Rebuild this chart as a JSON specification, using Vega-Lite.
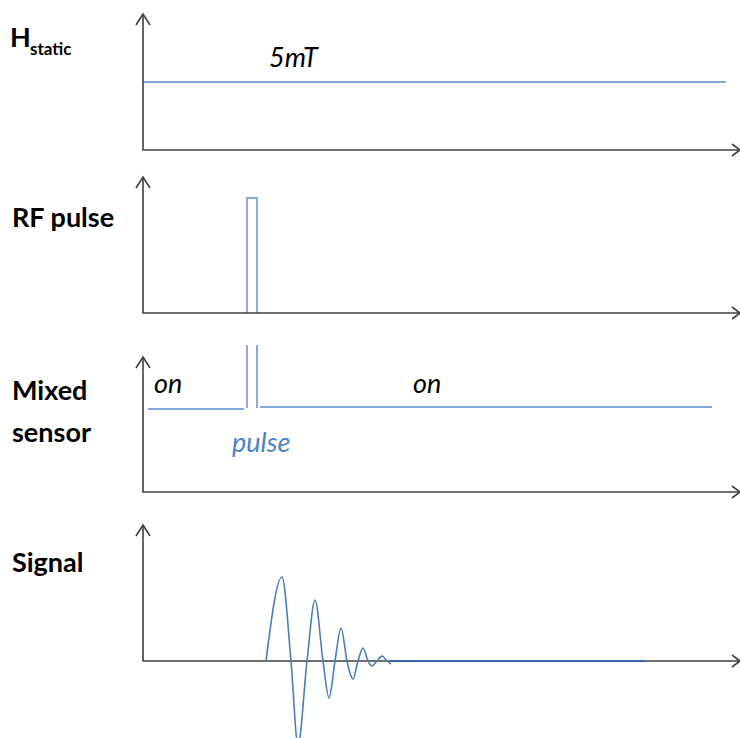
{
  "$schema": "https://vega.github.io/schema/vega-lite/v6.json",
  "width": 740,
  "height": 738,
  "padding": 0,
  "autosize": {"type": "fit", "contains": "padding"},
  "background": "white",
  "config": {"view": {"stroke": null}},
  "datasets": {
    "axes": [
      {"seg": "a1", "o": 1, "t": 143, "v": 14}, {"seg": "a1", "o": 2, "t": 143, "v": 150}, {"seg": "a1", "o": 3, "t": 740, "v": 150},
      {"seg": "a1y", "o": 1, "t": 136, "v": 25}, {"seg": "a1y", "o": 2, "t": 143, "v": 14}, {"seg": "a1y", "o": 3, "t": 150, "v": 25},
      {"seg": "a1x", "o": 1, "t": 732, "v": 144}, {"seg": "a1x", "o": 2, "t": 740, "v": 150}, {"seg": "a1x", "o": 3, "t": 732, "v": 156},
      {"seg": "a2", "o": 1, "t": 143, "v": 177}, {"seg": "a2", "o": 2, "t": 143, "v": 313}, {"seg": "a2", "o": 3, "t": 740, "v": 313},
      {"seg": "a2y", "o": 1, "t": 136, "v": 188}, {"seg": "a2y", "o": 2, "t": 143, "v": 177}, {"seg": "a2y", "o": 3, "t": 150, "v": 188},
      {"seg": "a2x", "o": 1, "t": 732, "v": 307}, {"seg": "a2x", "o": 2, "t": 740, "v": 313}, {"seg": "a2x", "o": 3, "t": 732, "v": 319},
      {"seg": "a3", "o": 1, "t": 143, "v": 357}, {"seg": "a3", "o": 2, "t": 143, "v": 492}, {"seg": "a3", "o": 3, "t": 740, "v": 492},
      {"seg": "a3y", "o": 1, "t": 136, "v": 368}, {"seg": "a3y", "o": 2, "t": 143, "v": 357}, {"seg": "a3y", "o": 3, "t": 150, "v": 368},
      {"seg": "a3x", "o": 1, "t": 732, "v": 486}, {"seg": "a3x", "o": 2, "t": 740, "v": 492}, {"seg": "a3x", "o": 3, "t": 732, "v": 498},
      {"seg": "a4", "o": 1, "t": 143, "v": 525}, {"seg": "a4", "o": 2, "t": 143, "v": 661}, {"seg": "a4", "o": 3, "t": 740, "v": 661},
      {"seg": "a4y", "o": 1, "t": 136, "v": 536}, {"seg": "a4y", "o": 2, "t": 143, "v": 525}, {"seg": "a4y", "o": 3, "t": 150, "v": 536},
      {"seg": "a4x", "o": 1, "t": 732, "v": 655}, {"seg": "a4x", "o": 2, "t": 740, "v": 661}, {"seg": "a4x", "o": 3, "t": 732, "v": 667}
    ],
    "traces": [
      {"seg": "h", "o": 1, "t": 143, "v": 82}, {"seg": "h", "o": 2, "t": 726, "v": 82},
      {"seg": "rf", "o": 1, "t": 247, "v": 313}, {"seg": "rf", "o": 2, "t": 247, "v": 198}, {"seg": "rf", "o": 3, "t": 257, "v": 198}, {"seg": "rf", "o": 4, "t": 257, "v": 313},
      {"seg": "m1", "o": 1, "t": 148, "v": 409}, {"seg": "m1", "o": 2, "t": 244, "v": 409},
      {"seg": "m2", "o": 1, "t": 247, "v": 345}, {"seg": "m2", "o": 2, "t": 247, "v": 408},
      {"seg": "m3", "o": 1, "t": 257, "v": 345}, {"seg": "m3", "o": 2, "t": 257, "v": 408},
      {"seg": "m4", "o": 1, "t": 260, "v": 407}, {"seg": "m4", "o": 2, "t": 712, "v": 407}
    ],
    "signal": [
      {"t": 266, "v": 661}, {"t": 282, "v": 577}, {"t": 291, "v": 661}, {"t": 298, "v": 745},
      {"t": 307, "v": 661}, {"t": 315, "v": 600}, {"t": 323, "v": 661}, {"t": 329, "v": 698},
      {"t": 335, "v": 661}, {"t": 341, "v": 628}, {"t": 347, "v": 661}, {"t": 353, "v": 679},
      {"t": 358, "v": 661}, {"t": 363, "v": 648}, {"t": 368, "v": 661}, {"t": 372, "v": 666},
      {"t": 377, "v": 661}, {"t": 382, "v": 656}, {"t": 387, "v": 661}, {"t": 391, "v": 664}
    ],
    "flat": [
      {"t": 390, "v": 661}, {"t": 645, "v": 661}
    ],
    "labels": [
      {"role": "title", "text": "H", "t": 10, "v": 47},
      {"role": "sub", "text": "static", "t": 30, "v": 55},
      {"role": "title", "text": "RF pulse", "t": 12, "v": 227},
      {"role": "title", "text": "Mixed", "t": 12, "v": 400},
      {"role": "title", "text": "sensor", "t": 12, "v": 442},
      {"role": "title", "text": "Signal", "t": 12, "v": 572},
      {"role": "note", "text": "5mT", "t": 269, "v": 67},
      {"role": "note", "text": "on", "t": 154, "v": 393},
      {"role": "note", "text": "on", "t": 413, "v": 393},
      {"role": "blue", "text": "pulse", "t": 232, "v": 452}
    ]
  },
  "encoding": {
    "x": {"field": "t", "type": "quantitative", "scale": {"domain": [0, 740], "nice": false, "zero": false}, "axis": null},
    "y": {"field": "v", "type": "quantitative", "scale": {"domain": [0, 738], "nice": false, "zero": false, "reverse": true}, "axis": null}
  },
  "layer": [
    {
      "data": {"name": "traces"},
      "mark": {"type": "line", "color": "#5b8ad0", "strokeWidth": 1.4, "clip": true},
      "encoding": {"detail": {"field": "seg"}, "order": {"field": "o", "type": "quantitative"}}
    },
    {
      "data": {"name": "axes"},
      "mark": {"type": "line", "color": "#404040", "strokeWidth": 1.6, "clip": true},
      "encoding": {"detail": {"field": "seg"}, "order": {"field": "o", "type": "quantitative"}}
    },
    {
      "data": {"name": "signal"},
      "mark": {"type": "line", "color": "#4a7ebb", "strokeWidth": 1.6, "interpolate": "monotone", "clip": true},
      "encoding": {"order": {"field": "t", "type": "quantitative"}}
    },
    {
      "data": {"name": "flat"},
      "mark": {"type": "line", "color": "#3a66a8", "strokeWidth": 2.2, "clip": true},
      "encoding": {}
    },
    {
      "data": {"name": "labels"},
      "transform": [{"filter": "datum.role === 'title'"}],
      "mark": {"type": "text", "font": "Lato", "fontWeight": "bold", "fontSize": 27, "align": "left", "baseline": "alphabetic", "color": "#000000"},
      "encoding": {"text": {"field": "text"}}
    },
    {
      "data": {"name": "labels"},
      "transform": [{"filter": "datum.role === 'sub'"}],
      "mark": {"type": "text", "font": "Lato", "fontWeight": "bold", "fontSize": 17, "align": "left", "baseline": "alphabetic", "color": "#000000"},
      "encoding": {"text": {"field": "text"}}
    },
    {
      "data": {"name": "labels"},
      "transform": [{"filter": "datum.role === 'note'"}],
      "mark": {"type": "text", "font": "Lato", "fontStyle": "italic", "fontSize": 27, "align": "left", "baseline": "alphabetic", "color": "#000000"},
      "encoding": {"text": {"field": "text"}}
    },
    {
      "data": {"name": "labels"},
      "transform": [{"filter": "datum.role === 'blue'"}],
      "mark": {"type": "text", "font": "Lato", "fontStyle": "italic", "fontSize": 27, "align": "left", "baseline": "alphabetic", "color": "#4f81c8"},
      "encoding": {"text": {"field": "text"}}
    }
  ]
}
